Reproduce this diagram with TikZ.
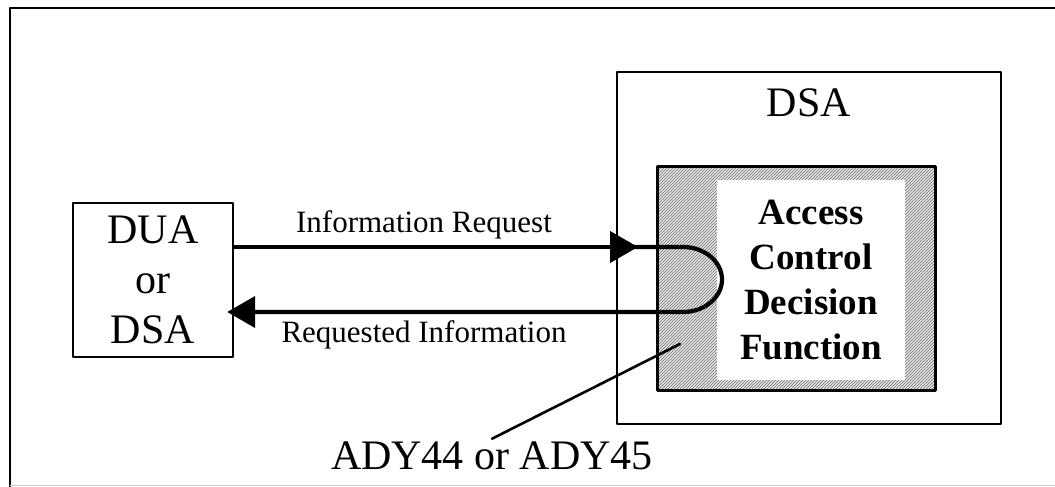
\documentclass[tikz,border=0pt]{standalone}
\usepackage{fontspec}
\setmainfont{Liberation Serif}
\usetikzlibrary{arrows.meta,patterns}
\begin{document}
\begin{tikzpicture}[x=1pt, y=1pt, line cap=round, line join=round, >={Triangle[length=28pt, width=31pt]}]
	\tikzset{box/.style={draw, line width=2.4pt, rectangle, inner sep=0pt},
		flow/.style={line width=4.2pt},
		big/.style={font=\fontsize{42}{50}\selectfont},
		small/.style={font=\fontsize{31}{36}\selectfont}}
	\useasboundingbox (0,0) rectangle (1055,487);
	\draw[line width=2.6pt] (1055,479)--(10,479)--(10,0);
	\draw[gray!40, line width=1pt] (10,1)--(1055,1);
	\node[box, minimum width=384, minimum height=352] (dsa) at (809,239) {};
	\node[big, anchor=base] (dsalbl) at (809,370) {DSA};
	\node[box, line width=3pt, minimum width=278, minimum height=224, preaction={fill=gray!20}, pattern=north east lines, pattern color=black!55] (hatch) at (796,208) {};
	\node[fill=white, minimum width=188, minimum height=200, inner sep=0pt, align=center, font=\fontsize{37}{45}\selectfont\bfseries] (acdf) at (811,207) {Access\\Control\\Decision\\Function};
	\node[box, minimum width=160, minimum height=154, big, align=center] (dua) at (153,207) {DUA\\or\\DSA};
	\coordinate (reqtip) at (638,240);
	\coordinate (looptop) at (683,240);
	\coordinate (loopbot) at (683,175);
	\draw[flow, ->] (dua.east |- reqtip)--(reqtip);
	\draw[flow, ->, shorten >=-7pt] ([xshift=-12pt]reqtip)--(looptop) arc[start angle=90, end angle=-90, x radius=39, y radius=32.5]--(dua.east |- loopbot);
	\node[small, anchor=base] (req) at (424,254) {Information Request};
	\node[small, anchor=base] (resp) at (424,144) {Requested Information};
	\node[big, anchor=base] (ady) at (492,17) {ADY44 or ADY45};
	\coordinate (pin) at (680,143);
	\draw[line width=2.6pt] (pin)--(ady.north);
\end{tikzpicture}
\end{document}
